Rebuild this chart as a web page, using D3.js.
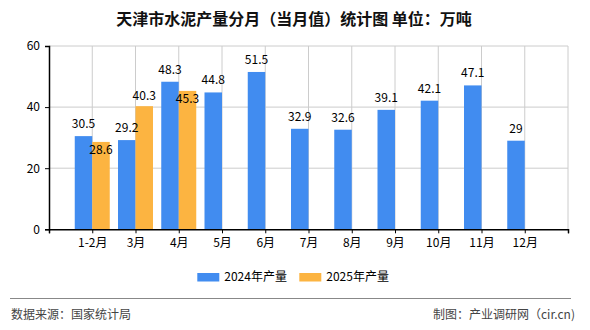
<!DOCTYPE html>
<html><head><meta charset="utf-8">
<script src="https://cdn.jsdelivr.net/npm/d3@7/dist/d3.min.js"></script>
<style>body{margin:0;background:#fff}text{font-family:"Noto Sans CJK SC","DejaVu Sans",sans-serif}</style>
</head><body><svg id="c" width="590" height="330"></svg>
<script>
const categories = ["1-2月","3月","4月","5月","6月","7月","8月","9月","10月","11月","12月"];
const series2024 = [30.5,29.2,48.3,44.8,51.5,32.9,32.6,39.1,42.1,47.1,29];
const series2025 = [28.6,40.3,45.3,null,null,null,null,null,null,null,null];
const yTicks = [0,20,40,60];
const seriesNames = ["2024年产量","2025年产量"];
const colors = ["#418CF0","#FCB441"];

const svg = d3.select("#c");
const L=49, R=568, T=46, B=229.3;
const x = d3.scaleLinear().domain([0,12]).range([L,R]);
const y = d3.scaleLinear().domain([0,60]).range([B,T]);
const bw = 17.5;

svg.append("text").attr("x",294).attr("y",25).attr("text-anchor","middle")
  .attr("font-size",16).attr("font-weight","bold").attr("fill","#111")
  .text("天津市水泥产量分月（当月值）统计图 单位：万吨");

const g = svg.append("g");
g.selectAll(".hg").data(yTicks.filter(d=>d>0)).join("line")
  .attr("x1",L).attr("x2",R).attr("y1",d=>y(d)).attr("y2",d=>y(d))
  .attr("stroke","#cccccc").attr("stroke-width",1);
g.selectAll(".vg").data(d3.range(1,13)).join("line")
  .attr("x1",d=>x(d)).attr("x2",d=>x(d)).attr("y1",T).attr("y2",B)
  .attr("stroke","#cccccc").attr("stroke-width",1);

const data = categories.map((c,i)=>({c,i,a:series2024[i],b:series2025[i]}));
g.selectAll(".ba").data(data).join("rect")
  .attr("x",d=>x(d.i+1)-bw).attr("width",bw)
  .attr("y",d=>y(d.a)).attr("height",d=>B-y(d.a)).attr("fill",colors[0]);
g.selectAll(".bb").data(data.filter(d=>d.b!=null)).join("rect")
  .attr("x",d=>x(d.i+1)).attr("width",bw)
  .attr("y",d=>y(d.b)).attr("height",d=>B-y(d.b)).attr("fill",colors[1]);

const lblA = data.map(d=>({x:x(d.i+1)-bw/2, y:y(d.a)-8, t:String(d.a)}));
g.selectAll(".la").data(lblA).join("text")
  .attr("x",d=>d.x).attr("y",d=>d.y).attr("text-anchor","middle")
  .attr("font-size",12).attr("fill","#000").text(d=>d.t);
const lblB = data.filter(d=>d.b!=null).map(d=>{
  let yy = y(d.b)-6;
  const ya = y(d.a)-8;
  if (Math.abs(yy-ya)<12) yy = y(d.b)+12;
  return {x:x(d.i+1)+bw/2, y:yy, t:String(d.b)};
});
g.selectAll(".lb").data(lblB).join("text")
  .attr("x",d=>d.x).attr("y",d=>d.y).attr("text-anchor","middle")
  .attr("font-size",12).attr("fill","#000").text(d=>d.t);

const xAxis = d3.axisBottom(x).tickValues(d3.range(0,13)).tickSize(4)
  .tickFormat(d=> d>=1 && d<=categories.length ? categories[d-1] : "");
const xa = svg.append("g").attr("transform",`translate(0,${B})`).call(xAxis);
xa.select(".domain").attr("stroke","#000").attr("stroke-width",1.5);
xa.selectAll(".tick line").attr("stroke","#000");
xa.selectAll("text").attr("font-size",12).attr("fill","#000").attr("dy","0.9em");

const yAxis = d3.axisLeft(y).tickValues(yTicks).tickSize(4).tickFormat(d3.format("d"));
const ya = svg.append("g").attr("transform",`translate(${L},0)`).call(yAxis);
ya.select(".domain").attr("stroke","#000").attr("stroke-width",1.5);
ya.selectAll(".tick line").attr("stroke","#000");
ya.selectAll("text").attr("font-size",12).attr("fill","#000").attr("x",-9);

const leg = svg.append("g");
const lx = [197.3, 299.3];
seriesNames.forEach((n,i)=>{
  leg.append("rect").attr("x",lx[i]).attr("y",273).attr("width",22).attr("height",8.5).attr("fill",colors[i]);
  leg.append("text").attr("x",lx[i]+27).attr("y",277.5).attr("dominant-baseline","middle").attr("font-size",12).attr("fill","#000").text(n);
});

svg.append("line").attr("x1",10).attr("x2",571).attr("y1",298.5).attr("y2",298.5).attr("stroke","#888").attr("stroke-width",1);
svg.append("text").attr("x",11).attr("y",316).attr("dominant-baseline","middle").attr("font-size",12).attr("fill","#444").text("数据来源：国家统计局");
svg.append("text").attr("x",575).attr("y",316).attr("dominant-baseline","middle").attr("text-anchor","end").attr("font-size",12).attr("fill","#444").text("制图：产业调研网（cir.cn)");
</script></body></html>
